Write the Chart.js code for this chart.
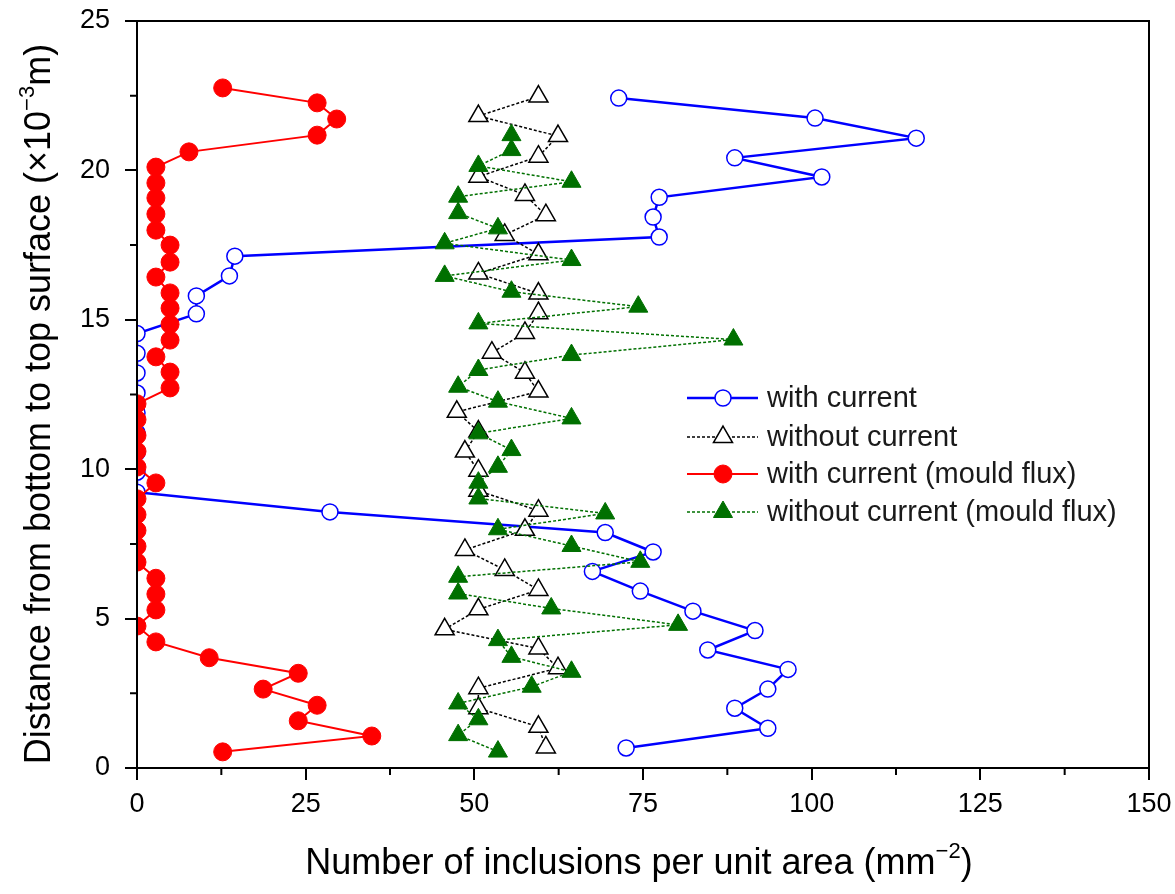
<!DOCTYPE html>
<html>
<head>
<meta charset="utf-8">
<script src="https://cdn.jsdelivr.net/npm/chart.js@4.4.0/dist/chart.umd.min.js"></script>
<style>
  html, body { margin: 0; padding: 0; background: #fff; }
</style>
</head>
<body>
<canvas id="inclusion_graph" width="1175" height="894"></canvas>
<script>
// distance from bottom (x10^-3 m) and number of inclusions (mm^-2)
const withCurDist = [0.67,1.33,2.0,2.64,3.3,3.95,4.6,5.25,5.92,6.58,7.23,7.88,8.57,9.23,9.9,10.56,11.22,11.89,12.55,13.22,13.88,14.54,15.2,15.8,16.47,17.13,17.77,18.44,19.1,19.78,20.42,21.08,21.75,22.42]
const withCurCount = [72.5,93.5,88.6,93.5,96.5,84.6,91.6,82.4,74.6,67.5,76.5,69.4,28.6,0,0,0,0,0,0,0,0,0,8.8,8.8,13.7,14.5,77.4,76.5,77.4,101.5,88.6,115.5,100.5,71.4]

const noCurDist = [0.69,1.38,2.0,2.67,3.34,4.0,4.64,5.31,5.96,6.63,7.3,7.97,8.61,9.28,9.95,10.59,11.26,11.92,12.6,13.23,13.9,14.56,15.22,15.88,16.55,17.19,17.84,18.5,19.18,19.79,20.46,21.15,21.82,22.47]
const noCurCount = [60.6,59.5,50.6,50.6,62.4,59.5,45.6,50.6,59.5,54.5,48.6,57.5,59.5,50.6,50.6,48.6,50.6,47.4,59.5,57.5,52.6,57.5,59.5,59.5,50.6,59.5,54.5,60.6,57.5,50.6,59.5,62.4,50.6,59.5]

const fluxCurDist = [0.54,1.07,1.58,2.1,2.64,3.17,3.69,4.22,4.75,5.29,5.82,6.35,6.89,7.42,7.95,8.48,9.01,9.54,10.07,10.6,11.13,11.66,12.19,12.72,13.25,13.76,14.32,14.85,15.39,15.9,16.43,16.93,17.5,18.0,18.54,19.08,19.58,20.11,20.62,21.18,21.72,22.26,22.76]
const fluxCurCount = [12.7,34.8,23.9,26.7,18.7,23.9,10.7,2.8,0,2.8,2.8,2.8,0,0,0,0,0,2.8,0,0,0,0,0,4.9,4.9,2.8,4.9,4.9,4.9,4.9,2.8,4.9,4.9,2.8,2.8,2.8,2.8,2.8,7.7,26.7,29.6,26.7,12.7]

const fluxNoCurDist = [0.55,1.1,1.63,2.16,2.72,3.22,3.72,4.28,4.79,5.34,5.84,6.4,6.9,7.43,7.99,8.52,9.02,9.55,10.08,10.64,11.2,11.7,12.26,12.76,13.32,13.82,14.34,14.88,15.44,15.94,16.47,17.0,17.56,18.06,18.57,19.12,19.62,20.15,20.68,21.18]
const fluxNoCurCount = [53.5,47.6,50.6,47.6,58.5,64.4,55.5,53.5,80.2,61.4,47.6,47.6,74.6,64.4,53.5,69.4,50.6,50.6,53.5,55.5,50.6,64.4,53.5,47.6,50.6,64.4,88.4,50.6,74.3,55.5,45.6,64.4,45.6,53.5,47.6,47.6,64.4,50.6,55.5,55.5]

const seriesLabels = ['with current', 'without current', 'with current (mould flux)', 'without current (mould flux)']
const xMinorTicks = [12.5, 37.5, 62.5, 87.5, 112.5, 137.5]
const yMinorTicks = [2.5, 7.5, 12.5, 17.5, 22.5]

const FONT = '"Liberation Sans", Arial, sans-serif'

function pts(xs, ys) {
  return xs.map((v, i) => ({ x: v, y: ys[i] }))
}

// axis box, minor ticks, titles and legend
const decor = {
  id: 'decor',
  afterDraw(chart) {
    const { ctx, chartArea: a, scales: { x, y } } = chart
    ctx.save()
    ctx.strokeStyle = '#000'
    ctx.lineWidth = 2
    ctx.strokeRect(a.left, a.top, a.right - a.left, a.bottom - a.top)
    ctx.beginPath()
    xMinorTicks.forEach(v => {
      const px = x.getPixelForValue(v)
      ctx.moveTo(px, a.bottom); ctx.lineTo(px, a.bottom + 7)
    })
    yMinorTicks.forEach(v => {
      const py = y.getPixelForValue(v)
      ctx.moveTo(a.left, py); ctx.lineTo(a.left - 7, py)
    })
    ctx.stroke()

    // axis titles
    ctx.fillStyle = '#000'
    drawTitle(ctx, [['Number of inclusions per unit area (mm', 0], ['\u22122', 1], [')', 0]], 639, 874)
    ctx.save()
    ctx.translate(50, 404)
    ctx.rotate(-Math.PI / 2)
    drawTitle(ctx, [['Distance from bottom to top surface (\u00d710', 0], ['\u22123', 1], ['m)', 0]], 0, 0)
    ctx.restore()

    // legend
    const rows = [398, 437, 474, 512]
    chart.data.datasets.forEach((ds, i) => {
      const ry = rows[i]
      ctx.save()
      ctx.strokeStyle = ds.borderColor
      ctx.lineWidth = ds.borderWidth
      ctx.setLineDash(ds.borderDash || [])
      ctx.beginPath()
      ctx.moveTo(687, ry); ctx.lineTo(758, ry)
      ctx.stroke()
      ctx.setLineDash([])
      ctx.fillStyle = ds.pointBackgroundColor
      ctx.strokeStyle = ds.pointBorderColor
      ctx.lineWidth = ds.pointBorderWidth
      Chart.helpers.drawPoint(ctx, { pointStyle: ds.pointStyle, radius: ds.pointRadius, rotation: 0, borderWidth: ds.pointBorderWidth }, 723, ry)
      ctx.restore()
      ctx.fillStyle = '#1a1a1a'
      ctx.font = '29px ' + FONT
      ctx.textBaseline = 'middle'
      ctx.textAlign = 'left'
      ctx.fillText(seriesLabels[i], 767, ry + 1)
    })
    ctx.restore()
  }
}

function drawTitle(ctx, parts, cx, baseY) {
  const big = '36px ' + FONT, small = '22px ' + FONT
  let w = 0
  parts.forEach(p => { ctx.font = p[1] ? small : big; w += ctx.measureText(p[0]).width })
  let px = cx - w / 2
  ctx.textAlign = 'left'
  ctx.textBaseline = 'alphabetic'
  parts.forEach(p => {
    ctx.font = p[1] ? small : big
    ctx.fillText(p[0], px, p[1] ? baseY - 16 : baseY)
    px += ctx.measureText(p[0]).width
  })
}

new Chart(document.getElementById('inclusion_graph'), {
  type: 'line',
  data: {
    datasets: [
      {
        label: seriesLabels[0], data: pts(withCurCount, withCurDist), order: 3,
        borderColor: '#0000ff', borderWidth: 2.5,
        pointStyle: 'circle', pointRadius: 8, pointBackgroundColor: '#ffffff', pointBorderColor: '#0000ff', pointBorderWidth: 1.5
      },
      {
        label: seriesLabels[1], data: pts(noCurCount, noCurDist), order: 2,
        borderColor: '#000000', borderWidth: 1.5, borderDash: [3, 2],
        pointStyle: 'triangle', pointRadius: 11, pointBackgroundColor: '#ffffff', pointBorderColor: '#000000', pointBorderWidth: 1.5
      },
      {
        label: seriesLabels[2], data: pts(fluxCurCount, fluxCurDist), order: 1,
        borderColor: '#ff0000', borderWidth: 2,
        pointStyle: 'circle', pointRadius: 9, pointBackgroundColor: '#ff0000', pointBorderColor: '#ff0000', pointBorderWidth: 1
      },
      {
        label: seriesLabels[3], data: pts(fluxNoCurCount, fluxNoCurDist), order: 0,
        borderColor: '#007000', borderWidth: 1.5, borderDash: [3, 2],
        pointStyle: 'triangle', pointRadius: 11, pointBackgroundColor: '#007000', pointBorderColor: '#007000', pointBorderWidth: 1
      }
    ]
  },
  options: {
    responsive: false,
    animation: false,
    devicePixelRatio: 1,
    clip: 0,
    layout: { padding: { top: 21, right: 26, left: 0, bottom: 0 } },
    elements: { line: { tension: 0, fill: false } },
    plugins: { legend: { display: false }, tooltip: { enabled: false } },
    scales: {
      x: {
        type: 'linear', min: 0, max: 150,
        ticks: { stepSize: 25, color: '#000', font: { family: FONT, size: 27 }, padding: 8, maxRotation: 0 },
        grid: { drawOnChartArea: false, tickLength: 12, color: '#000', lineWidth: 2 },
        border: { color: '#000', width: 2 },
        afterFit(s) { s.height = 126; s.paddingLeft = 0; s.paddingRight = 0 }
      },
      y: {
        type: 'linear', min: 0, max: 25,
        ticks: { stepSize: 5, color: '#000', font: { family: FONT, size: 27 }, padding: 15 },
        grid: { drawOnChartArea: false, tickLength: 12, color: '#000', lineWidth: 2 },
        border: { color: '#000', width: 2 },
        afterFit(s) { s.width = 137; s.paddingTop = 0; s.paddingBottom = 0 }
      }
    }
  },
  plugins: [decor]
});
</script>
</body>
</html>
